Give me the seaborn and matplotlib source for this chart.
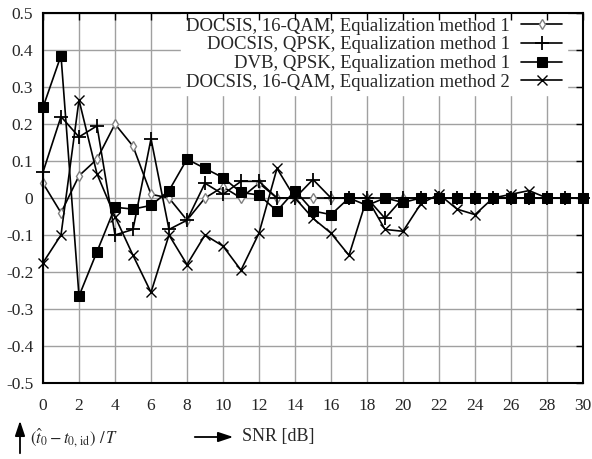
import matplotlib
matplotlib.use("Agg")
import matplotlib.pyplot as plt
import seaborn as sns
import pandas as pd

# ---- data ----
snr = list(range(31))
docsis_16qam_m1 = [0.04, -0.04, 0.06, 0.105, 0.2, 0.14, 0.01, 0.0, -0.06, 0.0,
                   0.03, 0.0, 0.04, 0.0, 0.0, 0.0, 0.0, 0.0, 0.0, 0.0,
                   0.0, 0.0, 0.0, 0.0, 0.0, 0.0, 0.0, 0.0, 0.0, 0.0, 0.0]
docsis_qpsk_m1 = [0.07, 0.22, 0.165, 0.195, -0.1, -0.085, 0.16, -0.085, -0.06, 0.04,
                  0.01, 0.045, 0.045, 0.0, 0.0, 0.05, 0.0, 0.0, 0.0, -0.055,
                  0.0, 0.0, 0.0, 0.0, 0.0, 0.0, 0.0, 0.0, 0.0, 0.0, 0.0]
dvb_qpsk_m1 = [0.245, 0.385, -0.265, -0.145, -0.025, -0.03, -0.02, 0.02, 0.105, 0.08,
               0.055, 0.015, 0.008, -0.035, 0.02, -0.035, -0.045, 0.0, -0.02, 0.0,
               -0.012, 0.0, 0.0, 0.0, 0.0, 0.0, 0.0, 0.0, 0.0, 0.0, 0.0]
docsis_16qam_m2 = [-0.175, -0.1, 0.265, 0.065, -0.05, -0.155, -0.255, -0.1, -0.18, -0.1,
                   -0.13, -0.195, -0.095, 0.08, 0.0, -0.055, -0.095, -0.155, 0.0, -0.085,
                   -0.09, -0.015, 0.01, -0.03, -0.045, 0.0, 0.01, 0.02, 0.0, 0.0, 0.0]
labels = ["DOCSIS, 16-QAM, Equalization method 1",
          "DOCSIS, QPSK, Equalization method 1",
          "DVB, QPSK, Equalization method 1",
          "DOCSIS, 16-QAM, Equalization method 2"]
xticks = list(range(0, 31, 2))
yticks = [-0.5, -0.4, -0.3, -0.2, -0.1, 0, 0.1, 0.2, 0.3, 0.4, 0.5]
ytick_labels = ["-0.5", "-0.4", "-0.3", "-0.2", "-0.1", "0", "0.1", "0.2", "0.3", "0.4", "0.5"]

sns.set_style("white")
plt.rcParams["font.family"] = ["Liberation Serif", "DejaVu Serif"]
plt.rcParams["mathtext.fontset"] = "stix"
plt.rcParams["axes.unicode_minus"] = False

fig = plt.figure(figsize=(5.92, 4.59), dpi=100)
pos = [43 / 592, 76 / 459, 540 / 592, 370 / 459]
ax = fig.add_axes(pos)

series = [docsis_16qam_m1, docsis_qpsk_m1, dvb_qpsk_m1, docsis_16qam_m2]
styles = [
    dict(marker="d", markersize=5.5, markerfacecolor="white", markeredgecolor="#808080", markeredgewidth=1.0),
    dict(marker="+", markersize=9.5, markeredgewidth=1.3, markeredgecolor="black"),
    dict(marker="s", markersize=7, markerfacecolor="black", markeredgecolor="black"),
    dict(marker="x", markersize=7, markeredgewidth=1.0, markeredgecolor="black"),
]
for vals, lab, st in zip(series, labels, styles):
    df = pd.DataFrame({"snr": snr, "val": vals})
    sns.lineplot(data=df, x="snr", y="val", ax=ax, color="black", linewidth=1.2,
                 label=lab, clip_on=False, zorder=3, **st)

ax.set_xlim(0, 30)
ax.set_ylim(-0.5, 0.5)
ax.set_xticks(xticks)
ax.set_xticklabels([str(t) for t in xticks])
ax.set_yticks(yticks)
ax.set_yticklabels(ytick_labels)
ax.set_xlabel("")
ax.set_ylabel("")
ax.set_axisbelow(True)
ax.grid(True, color="#a0a0a0", linewidth=1.0)
ax.tick_params(axis="y", labelsize=12.5, length=0, pad=7)
ax.tick_params(axis="x", labelsize=12.5, length=0, pad=11)
for s in ax.spines.values():
    s.set_visible(False)

leg = ax.legend(loc="upper right", bbox_to_anchor=(1.0 - 16 / 540, 1.0), markerfirst=False,
                frameon=True, facecolor="white", edgecolor="white", framealpha=1.0,
                fancybox=False, fontsize=13.5, handlelength=2.2, handletextpad=0.6,
                labelspacing=0.08, borderpad=0.25, borderaxespad=0.0, numpoints=1)
leg.set_zorder(5)

# overlay for frame and ticks on top
ov = fig.add_axes(pos, facecolor="none")
ov.set_xlim(0, 30)
ov.set_ylim(-0.5, 0.5)
ov.set_xticks(xticks)
ov.set_yticks(yticks)
ov.tick_params(axis="both", direction="in", length=5, width=1.0, top=True, right=True,
               labelbottom=False, labelleft=False, color="black")
for s in ov.spines.values():
    s.set_visible(True)
    s.set_color("black")
    s.set_linewidth(1.5)
ov.set_zorder(ax.get_zorder() + 1)

# bottom annotations
fig.text(30 / 592, 1 - 438 / 459, r"$(\hat{t}_0 - t_{0,\,\mathrm{id}})\ /\,T$",
         fontsize=12, va="center", ha="left")
ax.annotate("", xy=(20 / 592, 1 - 418 / 459), xytext=(20 / 592, 1 - 456 / 459),
            xycoords="figure fraction", textcoords="figure fraction",
            arrowprops=dict(arrowstyle="-|>,head_length=0.9,head_width=0.3",
                            color="black", lw=1.3))
ax.annotate("", xy=(236 / 592, 1 - 437 / 459), xytext=(192 / 592, 1 - 437 / 459),
            xycoords="figure fraction", textcoords="figure fraction",
            arrowprops=dict(arrowstyle="-|>,head_length=0.9,head_width=0.3",
                            color="black", lw=1.3))
fig.text(242 / 592, 1 - 437 / 459, "SNR [dB]", fontsize=13, va="center", ha="left")

fig.savefig("out.png", dpi=100)
